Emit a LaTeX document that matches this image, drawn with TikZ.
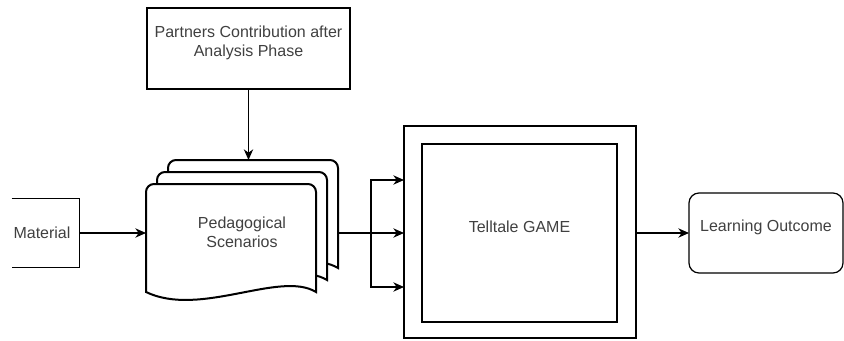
\documentclass[tikz,border=0pt]{standalone}
\usepackage{fontspec}
\setmainfont{Liberation Sans}
\usetikzlibrary{arrows.meta,fit}
\begin{document}
\begin{tikzpicture}[x=0.75pt,y=-0.75pt,
  thinline/.style={line width=0.9pt},
  docline/.style={line width=1.5pt, fill=white},
  gameline/.style={line width=1.7pt},
  lbl/.style={text=black!75, font=\fontsize{12}{14.4}\selectfont, align=center},
  arr/.style={line width=0.9pt, -{Stealth[length=8pt,width=7pt,inset=2.5pt]}},
  pics/pdoc/.style={code={
    \draw[docline] (0,108) -- (0,8) .. controls (0,3.6) and (3.6,0) .. (8,0)
      -- (162,0) .. controls (166.4,0) and (170,3.6) .. (170,8)
      -- (170,108) .. controls (134,86) and (54,134) .. (0,108) -- cycle;
  }}]
\useasboundingbox (0,0) rectangle (844,340);

% Material (cut at the left edge)
\node[fit={(12,199) (79,267)}, inner sep=0] (matbox) {};
\draw[thinline] (matbox.north west) -- (matbox.north east) -- (matbox.south east) -- (matbox.south west);
\node[lbl, inner sep=0] (mat) at (42,233) {Material};

% Partners box
\node[draw, thinline, lbl, fit={(147,8) (350,89)}, inner sep=0] (part)
  {Partners Contribution after\\Analysis Phase};

% Pedagogical scenarios (document stack)
\pic at (168,160) {pdoc};
\pic at (157,172) {pdoc};
\pic at (146,184) {pdoc};
\node[lbl, inner sep=0] (scen) at (242,232) {Pedagogical\\Scenarios};
\coordinate (scenin) at (146,233);
\coordinate (scentop) at (248.5,160);
\coordinate (scenout) at (338,233);
\coordinate (split) at (371,233);

% Telltale game
\node[draw, gameline, fit={(404,126) (636,338)}, inner sep=0] (game) {};
\node[draw, gameline, lbl, fit={(422,144) (617,322)}, inner sep=0] (gamein) {Telltale GAME};
\coordinate (gin1) at (404,180);
\coordinate (gin2) at (404,233);
\coordinate (gin3) at (404,287);

% Learning outcome
\node[draw, thinline, lbl, rounded corners=7.5pt, fit={(689,193) (843,273)}, inner sep=0] (lo) {Learning Outcome};
\coordinate (loin) at (689,233);
\coordinate (gameout) at (636,233);

% connectors
\draw[arr] (matbox.east) -- (scenin);
\draw[arr] (part.south) -- (scentop);
\draw[thinline] (scenout) -- (split);
\draw[arr] (split) |- (gin1);
\draw[arr] (split) -- (gin2);
\draw[arr] (split) |- (gin3);
\draw[arr] (gameout) -- (loin);
\end{tikzpicture}
\end{document}
